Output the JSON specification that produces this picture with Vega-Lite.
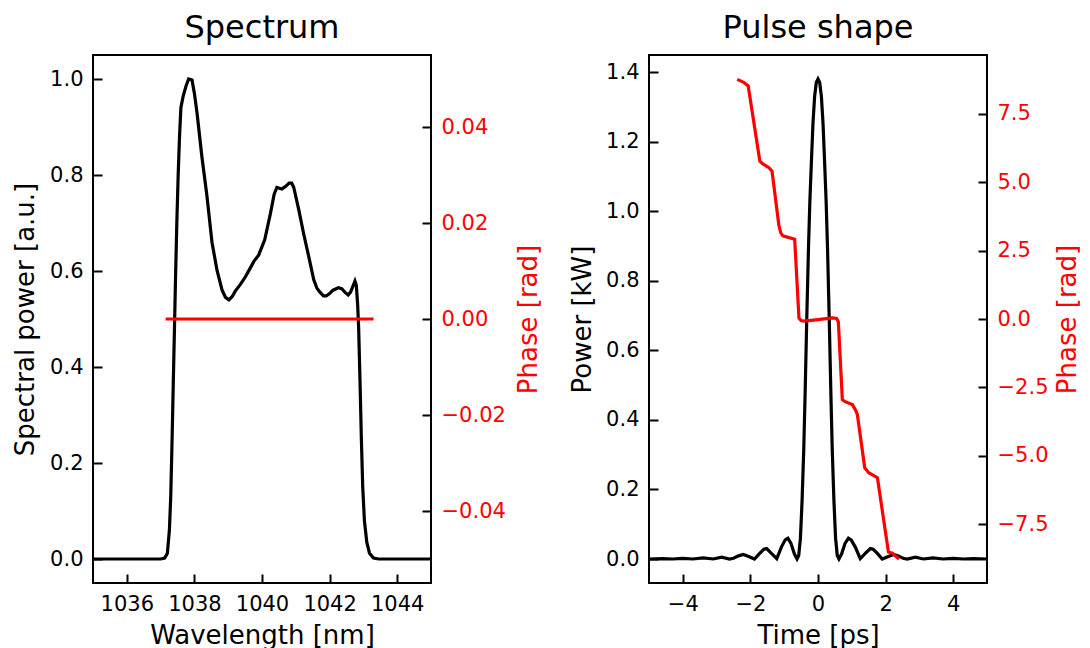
{
  "$schema": "https://vega.github.io/schema/vega-lite/v6.json",
  "padding": {"left": 11, "top": 10, "right": 0, "bottom": 0},
  "spacing": 26,
  "datasets": {
    "spectrum": [
      {"wl": 1035.0, "power": 0}, {"wl": 1036.0, "power": 0}, {"wl": 1037.0, "power": 0},
      {"wl": 1037.12, "power": 0.002}, {"wl": 1037.2, "power": 0.012}, {"wl": 1037.26, "power": 0.06},
      {"wl": 1037.3, "power": 0.13}, {"wl": 1037.34, "power": 0.25}, {"wl": 1037.37, "power": 0.35},
      {"wl": 1037.41, "power": 0.48}, {"wl": 1037.44, "power": 0.58}, {"wl": 1037.48, "power": 0.7},
      {"wl": 1037.52, "power": 0.8}, {"wl": 1037.56, "power": 0.88}, {"wl": 1037.6, "power": 0.94},
      {"wl": 1037.67, "power": 0.965}, {"wl": 1037.75, "power": 0.985}, {"wl": 1037.83, "power": 1.0},
      {"wl": 1037.93, "power": 0.998}, {"wl": 1038.0, "power": 0.97}, {"wl": 1038.08, "power": 0.928},
      {"wl": 1038.22, "power": 0.839}, {"wl": 1038.37, "power": 0.757}, {"wl": 1038.52, "power": 0.66},
      {"wl": 1038.67, "power": 0.601}, {"wl": 1038.82, "power": 0.56}, {"wl": 1038.92, "power": 0.545},
      {"wl": 1039.02, "power": 0.54}, {"wl": 1039.12, "power": 0.547}, {"wl": 1039.21, "power": 0.558},
      {"wl": 1039.36, "power": 0.572}, {"wl": 1039.51, "power": 0.588}, {"wl": 1039.66, "power": 0.607},
      {"wl": 1039.76, "power": 0.62}, {"wl": 1039.9, "power": 0.633}, {"wl": 1040.08, "power": 0.665},
      {"wl": 1040.25, "power": 0.72}, {"wl": 1040.36, "power": 0.76}, {"wl": 1040.44, "power": 0.774},
      {"wl": 1040.59, "power": 0.771}, {"wl": 1040.71, "power": 0.777}, {"wl": 1040.8, "power": 0.783},
      {"wl": 1040.88, "power": 0.783}, {"wl": 1040.94, "power": 0.774}, {"wl": 1041.09, "power": 0.727},
      {"wl": 1041.24, "power": 0.675}, {"wl": 1041.38, "power": 0.631}, {"wl": 1041.53, "power": 0.582},
      {"wl": 1041.62, "power": 0.565}, {"wl": 1041.7, "power": 0.557}, {"wl": 1041.82, "power": 0.548},
      {"wl": 1041.9, "power": 0.548}, {"wl": 1042.0, "power": 0.553}, {"wl": 1042.1, "power": 0.56},
      {"wl": 1042.26, "power": 0.565}, {"wl": 1042.36, "power": 0.563}, {"wl": 1042.45, "power": 0.556},
      {"wl": 1042.55, "power": 0.55}, {"wl": 1042.62, "power": 0.556}, {"wl": 1042.7, "power": 0.57},
      {"wl": 1042.75, "power": 0.579}, {"wl": 1042.79, "power": 0.57}, {"wl": 1042.83, "power": 0.53},
      {"wl": 1042.86, "power": 0.48}, {"wl": 1042.9, "power": 0.37}, {"wl": 1042.94, "power": 0.25},
      {"wl": 1042.98, "power": 0.15}, {"wl": 1043.03, "power": 0.08}, {"wl": 1043.1, "power": 0.035},
      {"wl": 1043.18, "power": 0.012}, {"wl": 1043.3, "power": 0.002}, {"wl": 1043.45, "power": 0},
      {"wl": 1044.0, "power": 0}, {"wl": 1045.0, "power": 0}
    ],
    "specphase": [
      {"wl": 1037.15, "phase": 0}, {"wl": 1038.5, "phase": 0}, {"wl": 1040.0, "phase": 0},
      {"wl": 1041.5, "phase": 0}, {"wl": 1043.3, "phase": 0}
    ],
    "pulse": [
      {"t": -5.0, "power": 0}, {"t": -4.6, "power": 0.001}, {"t": -4.3, "power": 0.0}, {"t": -4.0, "power": 0.002},
      {"t": -3.7, "power": 0.0}, {"t": -3.4, "power": 0.003}, {"t": -3.1, "power": 0.0}, {"t": -2.85, "power": 0.005},
      {"t": -2.62, "power": 0.0}, {"t": -2.5, "power": 0.002}, {"t": -2.35, "power": 0.009}, {"t": -2.21, "power": 0.013},
      {"t": -2.05, "power": 0.007}, {"t": -1.88, "power": 0.0}, {"t": -1.72, "power": 0.017}, {"t": -1.6, "power": 0.028},
      {"t": -1.52, "power": 0.03}, {"t": -1.4, "power": 0.018}, {"t": -1.22, "power": 0.001}, {"t": -1.08, "power": 0.035},
      {"t": -0.97, "power": 0.055}, {"t": -0.89, "power": 0.06}, {"t": -0.8, "power": 0.045}, {"t": -0.7, "power": 0.015},
      {"t": -0.62, "power": 0.0}, {"t": -0.57, "power": 0.01}, {"t": -0.52, "power": 0.06}, {"t": -0.47, "power": 0.17},
      {"t": -0.42, "power": 0.32}, {"t": -0.38, "power": 0.48}, {"t": -0.33, "power": 0.7}, {"t": -0.28, "power": 0.9},
      {"t": -0.24, "power": 1.03}, {"t": -0.2, "power": 1.13}, {"t": -0.15, "power": 1.25}, {"t": -0.1, "power": 1.33},
      {"t": -0.05, "power": 1.37}, {"t": 0.0, "power": 1.38}, {"t": 0.05, "power": 1.37}, {"t": 0.1, "power": 1.33},
      {"t": 0.15, "power": 1.25}, {"t": 0.2, "power": 1.13}, {"t": 0.24, "power": 1.03}, {"t": 0.28, "power": 0.9},
      {"t": 0.33, "power": 0.7}, {"t": 0.38, "power": 0.48}, {"t": 0.42, "power": 0.32}, {"t": 0.47, "power": 0.17},
      {"t": 0.52, "power": 0.06}, {"t": 0.57, "power": 0.01}, {"t": 0.62, "power": 0.0}, {"t": 0.7, "power": 0.015},
      {"t": 0.8, "power": 0.045}, {"t": 0.9, "power": 0.06}, {"t": 0.98, "power": 0.055}, {"t": 1.1, "power": 0.035},
      {"t": 1.25, "power": 0.001}, {"t": 1.42, "power": 0.018}, {"t": 1.55, "power": 0.03}, {"t": 1.63, "power": 0.028},
      {"t": 1.75, "power": 0.017}, {"t": 1.9, "power": 0.0}, {"t": 2.08, "power": 0.007}, {"t": 2.24, "power": 0.013},
      {"t": 2.38, "power": 0.009}, {"t": 2.52, "power": 0.002}, {"t": 2.64, "power": 0.0}, {"t": 2.88, "power": 0.005},
      {"t": 3.12, "power": 0.0}, {"t": 3.4, "power": 0.003}, {"t": 3.7, "power": 0.0}, {"t": 4.0, "power": 0.002},
      {"t": 4.3, "power": 0.0}, {"t": 4.6, "power": 0.001}, {"t": 5.0, "power": 0}
    ],
    "pulsephase": [
      {"t": -2.39, "phase": 8.76}, {"t": -2.2, "phase": 8.65}, {"t": -2.065, "phase": 8.52}, {"t": -1.72, "phase": 5.77},
      {"t": -1.62, "phase": 5.66}, {"t": -1.452, "phase": 5.53}, {"t": -1.36, "phase": 5.4}, {"t": -1.156, "phase": 3.41},
      {"t": -1.1, "phase": 3.15}, {"t": -1.04, "phase": 3.04}, {"t": -0.69, "phase": 2.92}, {"t": -0.563, "phase": 0.03},
      {"t": -0.5, "phase": -0.06}, {"t": -0.415, "phase": -0.08}, {"t": 0.0, "phase": -0.02}, {"t": 0.425, "phase": 0.04},
      {"t": 0.55, "phase": 0.02}, {"t": 0.602, "phase": -0.1}, {"t": 0.72, "phase": -2.95}, {"t": 0.8, "phase": -3.02},
      {"t": 1.017, "phase": -3.13}, {"t": 1.12, "phase": -3.35}, {"t": 1.165, "phase": -3.5}, {"t": 1.383, "phase": -5.44},
      {"t": 1.5, "phase": -5.62}, {"t": 1.758, "phase": -5.8}, {"t": 2.084, "phase": -8.52}, {"t": 2.2, "phase": -8.56},
      {"t": 2.4, "phase": -8.77}
    ]
  },
  "hconcat": [
    {
      "width": 338,
      "height": 528,
      "title": {"text": "Spectrum"},
      "layer": [
        {
          "data": {"name": "spectrum"},
          "mark": {"type": "line", "color": "black", "strokeWidth": 3.2, "clip": true},
          "encoding": {
            "x": {"field": "wl", "type": "quantitative",
              "scale": {"domain": [1035, 1045], "nice": false, "zero": false},
              "axis": {"values": [1036, 1038, 1040, 1042, 1044], "format": "d", "title": "Wavelength [nm]",
                "titleX": 169, "titleY": 69, "titleBaseline": "alphabetic"}},
            "y": {"field": "power", "type": "quantitative",
              "scale": {"domain": [-0.05, 1.05], "nice": false, "zero": false},
              "axis": {"values": [0, 0.2, 0.4, 0.6, 0.8, 1.0], "format": ".1f", "title": "Spectral power [a.u.]",
                "titleX": -77, "titleY": 264, "titleBaseline": "middle", "titleAngle": 270}}
          }
        },
        {
          "data": {"name": "specphase"},
          "mark": {"type": "line", "color": "#ff0000", "strokeWidth": 3.2, "clip": true},
          "encoding": {
            "x": {"field": "wl", "type": "quantitative"},
            "y": {"field": "phase", "type": "quantitative",
              "scale": {"domain": [-0.055, 0.055], "nice": false, "zero": false},
              "axis": {"orient": "right", "values": [-0.04, -0.02, 0, 0.02, 0.04], "format": ".2f", "title": "Phase [rad]",
                "titleColor": "#ff0000", "labelColor": "#ff0000",
                "titleX": 106, "titleY": 264, "titleBaseline": "middle", "titleAngle": 270}}
          }
        }
      ],
      "resolve": {"scale": {"y": "independent"}}
    },
    {
      "width": 338,
      "height": 528,
      "title": {"text": "Pulse shape"},
      "layer": [
        {
          "data": {"name": "pulse"},
          "mark": {"type": "line", "color": "black", "strokeWidth": 3.2, "clip": true},
          "encoding": {
            "x": {"field": "t", "type": "quantitative",
              "scale": {"domain": [-5, 5], "nice": false, "zero": false},
              "axis": {"values": [-4, -2, 0, 2, 4], "format": "d", "title": "Time [ps]",
                "titleX": 169, "titleY": 69, "titleBaseline": "alphabetic"}},
            "y": {"field": "power", "type": "quantitative",
              "scale": {"domain": [-0.069, 1.449], "nice": false, "zero": false},
              "axis": {"values": [0, 0.2, 0.4, 0.6, 0.8, 1.0, 1.2, 1.4], "format": ".1f", "title": "Power [kW]",
                "titleX": -76, "titleY": 264, "titleBaseline": "middle", "titleAngle": 270}}
          }
        },
        {
          "data": {"name": "pulsephase"},
          "mark": {"type": "line", "color": "#ff0000", "strokeWidth": 3.2, "clip": true},
          "encoding": {
            "x": {"field": "t", "type": "quantitative"},
            "y": {"field": "phase", "type": "quantitative",
              "scale": {"domain": [-9.65, 9.65], "nice": false, "zero": false},
              "axis": {"orient": "right", "values": [-7.5, -5, -2.5, 0, 2.5, 5, 7.5], "format": ".1f", "title": "Phase [rad]",
                "titleColor": "#ff0000", "labelColor": "#ff0000",
                "titleX": 89, "titleY": 264, "titleBaseline": "middle", "titleAngle": 270}}
          }
        }
      ],
      "resolve": {"scale": {"y": "independent"}}
    }
  ],
  "config": {
    "font": "DejaVu Sans",
    "view": {"stroke": "black", "strokeWidth": 2},
    "axis": {
      "grid": false, "domain": false, "offset": -9,
      "tickColor": "black", "tickWidth": 2, "tickSize": 9,
      "labelFont": "DejaVu Sans", "labelFontSize": 21, "labelColor": "black", "labelPadding": 10,
      "labelFlush": false, "labelOverlap": false,
      "titleFont": "DejaVu Sans", "titleFontSize": 26, "titleFontWeight": "normal", "titleColor": "black"
    },
    "title": {"font": "DejaVu Sans", "fontSize": 32, "fontWeight": "normal", "color": "black",
      "baseline": "alphabetic", "offset": 10.5, "anchor": "middle", "frame": "group"}
  }
}
